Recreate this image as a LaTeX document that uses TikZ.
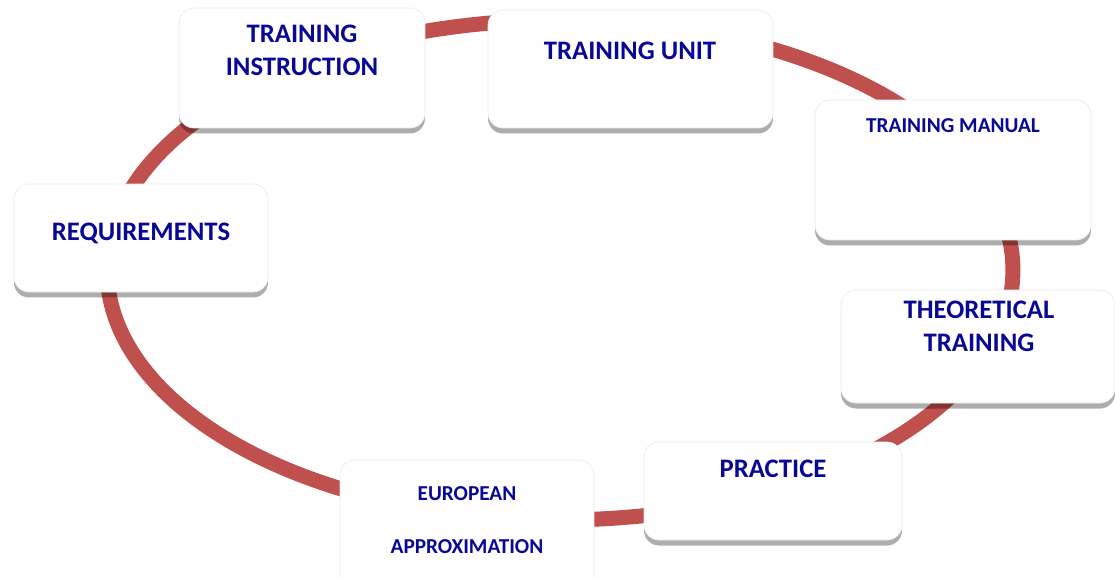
\documentclass[tikz,border=0pt]{standalone}
\usepackage{fontspec}
\setmainfont{Carlito}
\usepackage{xcolor}
\usetikzlibrary{shapes,positioning,shadows}
\definecolor{ringcolor}{RGB}{192,80,77}
\definecolor{labelcolor}{RGB}{8,8,150}

\begin{document}
\begin{tikzpicture}[
    x=0.02cm, y=-0.02cm,
    card/.style={rectangle, rounded corners=0.3cm, fill=white, draw=black!8, line width=0.4pt,
        drop shadow={shadow xshift=0cm, shadow yshift=-0.11cm, fill=black, opacity=0.32}},
    title/.style={align=center, text=labelcolor, font=\fontsize{15.2}{18.7}\selectfont\bfseries},
    smalltitle/.style={align=center, text=labelcolor, font=\fontsize{12.1}{15}\selectfont\bfseries},
    ring/.style={draw=ringcolor, line width=0.3cm}
]
\useasboundingbox (0,0) rectangle (1115,576);

% Ring
\draw[ring] (560,270) ellipse [x radius=9.06cm, y radius=5cm];

% Boxes
\node[card, minimum width=4.92cm, minimum height=2.4cm] (instr) at (302,68) {};
\node[card, minimum width=5.7cm, minimum height=2.36cm] (unit) at (630.5,69) {};
\node[card, minimum width=5.52cm, minimum height=2.8cm] (manual) at (953,170) {};
\node[card, minimum width=5.08cm, minimum height=2.16cm] (req) at (141,238) {};
\node[card, minimum width=5.48cm, minimum height=2.26cm] (theo) at (978,346.5) {};
\node[card, minimum width=5.16cm, minimum height=1.96cm] (prac) at (773,491) {};
\node[card, minimum width=5.08cm, minimum height=2.6cm] (euro) at (467,525) {};

% Labels
\node[title] (instr-t) at (302,50) {TRAINING\\INSTRUCTION};
\node[title] (unit-t) at (630,51) {TRAINING UNIT};
\node[smalltitle] (manual-t) at (953,126) {TRAINING MANUAL};
\node[title] (req-t) at (141,233) {REQUIREMENTS};
\node[title] (theo-t) at (979,326) {THEORETICAL\\TRAINING};
\node[title] (prac-t) at (773,469) {PRACTICE};
\node[smalltitle] (euro-t) at (467,520) {EUROPEAN\\[15pt]APPROXIMATION};

\end{tikzpicture}
\end{document}
